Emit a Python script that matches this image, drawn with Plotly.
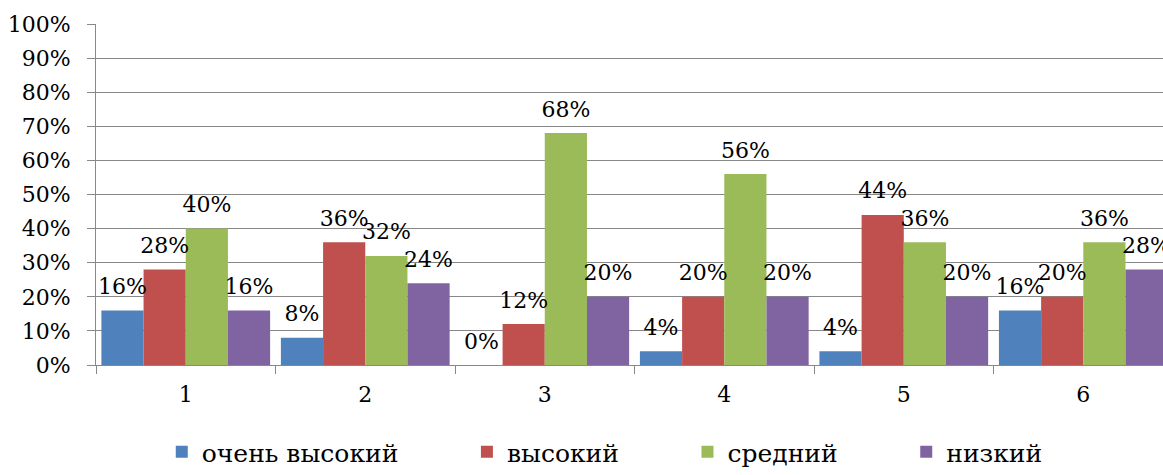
import plotly.graph_objects as go

categories = ["1", "2", "3", "4", "5", "6"]
series_names = ["очень высокий", "высокий", "средний", "низкий"]
very_high = [16, 8, 0, 4, 4, 16]
high = [28, 36, 12, 20, 44, 20]
medium = [40, 32, 68, 56, 36, 36]
low = [16, 24, 20, 20, 20, 28]
y_ticks = [0, 10, 20, 30, 40, 50, 60, 70, 80, 90, 100]
y_tick_labels = [f"{v}%" for v in y_ticks]

colors = ["#4F81BD", "#C0504D", "#9BBB59", "#8064A2"]
FONT = "DejaVu Serif"
FS = 22
LFS = 25
GAP = 0.06

fig = go.Figure()
all_series = [very_high, high, medium, low]
for i, (name, vals) in enumerate(zip(series_names, all_series)):
    pad = "\u00a0" * 8 if i < len(series_names) - 1 else ""
    fig.add_trace(go.Bar(
        x=categories, y=vals, name=name + pad,
        marker=dict(color=colors[i], line=dict(width=0)),
        offsetgroup=str(i),
    ))
for i, (name, vals) in enumerate(zip(series_names, all_series)):
    fig.add_trace(go.Scatter(
        x=categories, y=vals, mode="markers+text",
        marker=dict(size=16, opacity=0),
        text=[f"{v}%" for v in vals], textposition="top center",
        textfont=dict(family=FONT, size=FS, color="#000"),
        offsetgroup=str(i), showlegend=False, cliponaxis=False,
        hoverinfo="skip",
    ))

fig.update_layout(
    width=1163, height=475,
    margin=dict(l=96, r=0, t=24, b=110),
    paper_bgcolor="white", plot_bgcolor="white",
    barmode="group", bargap=GAP, bargroupgap=0,
    scattermode="group", scattergap=GAP,
    font=dict(family=FONT, size=FS, color="#000"),
    showlegend=True,
    legend=dict(orientation="h", xref="container", x=0.52, xanchor="center",
                yref="container", y=-0.034, yanchor="bottom",
                font=dict(family=FONT, size=LFS, color="#000")),
)
fig.update_xaxes(
    type="category", range=[-0.5, 5.444], showgrid=False,
    showline=True, linecolor="#888888", linewidth=1,
    ticks="outside", tickson="boundaries", ticklen=8, tickcolor="#888888",
    ticklabelstandoff=10, tickfont=dict(family=FONT, size=FS, color="#000"),
)
fig.update_yaxes(
    range=[0, 100], tickmode="array", tickvals=y_ticks, ticktext=y_tick_labels,
    showgrid=True, gridcolor="#888888", gridwidth=1,
    showline=True, linecolor="#888888", linewidth=1,
    ticks="outside", ticklen=8, tickcolor="#888888",
    ticklabelstandoff=12, zeroline=False,
    tickfont=dict(family=FONT, size=FS, color="#000"),
)
fig.write_html("out.html")
